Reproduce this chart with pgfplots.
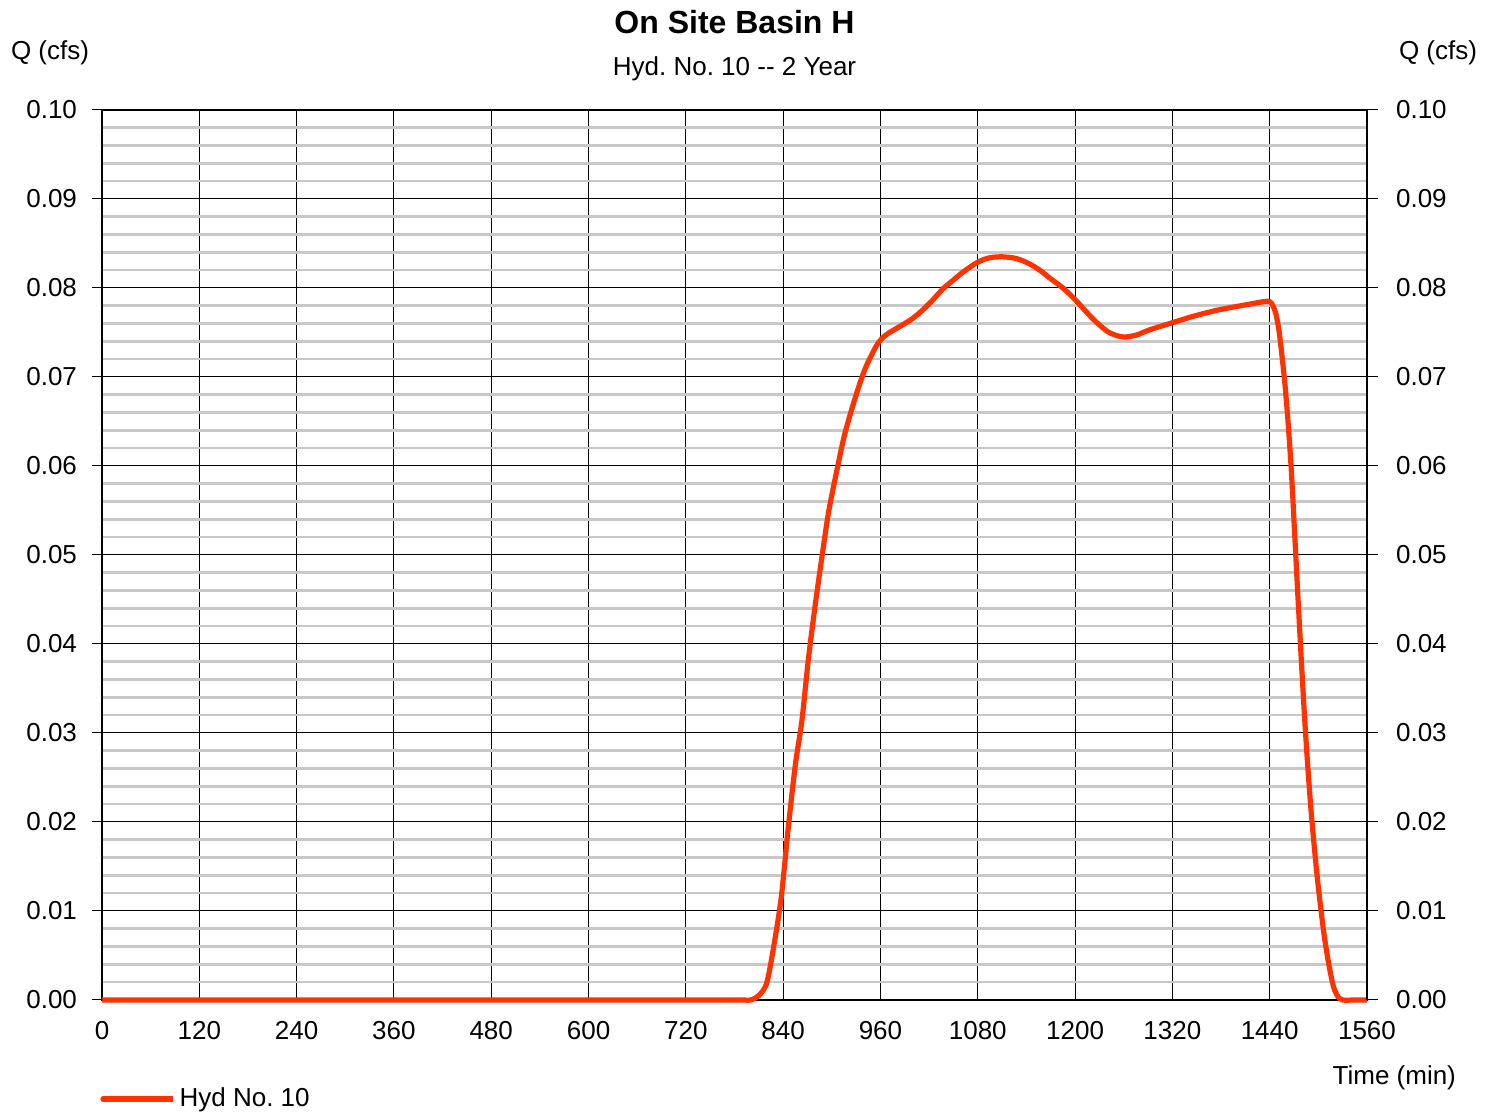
\documentclass[border=0pt]{standalone}
\usepackage{pgfplots}
\pgfplotsset{compat=1.18}
\usepackage{fontspec}
\setmainfont{Liberation Sans}
\definecolor{hyd}{RGB}{255,51,0}
\definecolor{mgrid}{RGB}{200,200,200}
\pgfplotstableread{
t q
0 0
120 0
240 0
360 0
480 0
600 0
720 0
760 0
790 0
800 0
810 0.0005
820 0.0020
830 0.0069
838 0.0118
846 0.0191
855 0.0264
863 0.0313
871 0.0382
879 0.0440
888 0.0499
896 0.0548
906 0.0594
916 0.0636
929 0.0677
941 0.0709
955 0.0735
965 0.0746
975 0.0752
988 0.0759
1000 0.0766
1013 0.0776
1025 0.0787
1037 0.0799
1050 0.0809
1062 0.0818
1080 0.0829
1095 0.0834
1111 0.0835
1128 0.0833
1144 0.0827
1158 0.0819
1169 0.0811
1185 0.0800
1200 0.0787
1215 0.0772
1227 0.0761
1242 0.0750
1259 0.0745
1275 0.0747
1292 0.0753
1320 0.0761
1345 0.0768
1375 0.0775
1410 0.0781
1436 0.0785
1442 0.0783
1447 0.0773
1451 0.0755
1455 0.0725
1459 0.0690
1463 0.0645
1467 0.0590
1471 0.0520
1475 0.0450
1479 0.0382
1483 0.0318
1487 0.0262
1491 0.0213
1495 0.0172
1499 0.0135
1503 0.0103
1507 0.0074
1511 0.0050
1515 0.0030
1519 0.0014
1524 0.0004
1530 0
1545 0
1560 0
}\hyd
\begin{document}
\frenchspacing
\fontsize{13}{15}\selectfont
\begin{tikzpicture}
\path (-51pt,-56pt) rectangle (697pt,500pt);
\begin{axis}[
  at={(0,0)}, anchor=south west,
  scale only axis, width=632.5pt, height=445pt,
  xmin=0, xmax=1560, ymin=0, ymax=0.1,
  clip=false,
  xtick={0,120,240,360,480,600,720,840,960,1080,1200,1320,1440,1560},
  ytick={0,0.01,0.02,0.03,0.04,0.05,0.06,0.07,0.08,0.09,0.1},
  minor y tick num=4,
  xmajorgrids, ymajorgrids, yminorgrids,
  major grid style={black, line width=0.5pt},
  minor grid style={mgrid, line width=1.3pt},
  axis line style={black, line width=0.6pt},
  xtick style={draw=none},
  ytick pos=left,
  ytick align=outside,
  major tick length=5pt,
  minor tick length=0pt,
  ytick style={black, line width=0.5pt},
  tick label style={font=\fontsize{13}{15}\selectfont},
  xticklabel style={yshift=-6pt},
  yticklabel style={xshift=-3pt},
  /pgf/number format/assume math mode=true,
  /pgf/number format/1000 sep={},
  yticklabel={\pgfmathprintnumber[fixed,fixed zerofill,precision=2]{\tick}},
  legend style={at={(0,0)}, anchor=west, xshift=-1pt, yshift=-49.5pt, draw=none, fill=none,
    inner sep=0pt, font=\fontsize{13}{15}\selectfont},
  legend cell align=left,
  legend image code/.code={\path (0pt,0pt) -- (35pt,0pt);\draw[#1, line cap=round] (0pt,0pt) -- (32.5pt,0pt);},
]
\addplot[hyd, line width=2.6pt, line join=round, smooth, tension=0.5] table[x=t,y=q] {\hyd};
\addlegendentry{Hyd No. 10}
\node[font=\bfseries\fontsize{16}{18}\selectfont] at (rel axis cs:0.5,1) [yshift=44pt] {On Site Basin H};
\node[font=\fontsize{13}{15}\selectfont] at (rel axis cs:0.5,1) [yshift=20.5pt] {Hyd. No. 10 -{}- 2 Year};
\node[font=\fontsize{13}{15}\selectfont] at (rel axis cs:0,1) [xshift=-26pt, yshift=28.5pt] {Q (cfs)};
\node[font=\fontsize{13}{15}\selectfont] at (rel axis cs:1,1) [xshift=35.5pt, yshift=28.5pt] {Q (cfs)};
\node[font=\fontsize{13}{15}\selectfont, anchor=east] at (rel axis cs:1,0) [xshift=49pt, yshift=-39pt] {Time (min)};
\end{axis}
\begin{axis}[
  at={(0,0)}, anchor=south west,
  scale only axis, width=632.5pt, height=445pt,
  xmin=0, xmax=1560, ymin=0, ymax=0.1,
  axis x line=none, axis y line*=right,
  axis line style={black, line width=0.6pt},
  ytick={0,0.01,0.02,0.03,0.04,0.05,0.06,0.07,0.08,0.09,0.1},
  ytick align=outside,
  major tick length=5.5pt,
  ytick style={black, line width=0.5pt},
  tick label style={font=\fontsize{13}{15}\selectfont},
  yticklabel style={xshift=4.5pt},
  /pgf/number format/assume math mode=true,
  yticklabel={\pgfmathprintnumber[fixed,fixed zerofill,precision=2]{\tick}},
]
\addplot[draw=none] coordinates {(0,0)};
\end{axis}
\end{tikzpicture}
\end{document}
